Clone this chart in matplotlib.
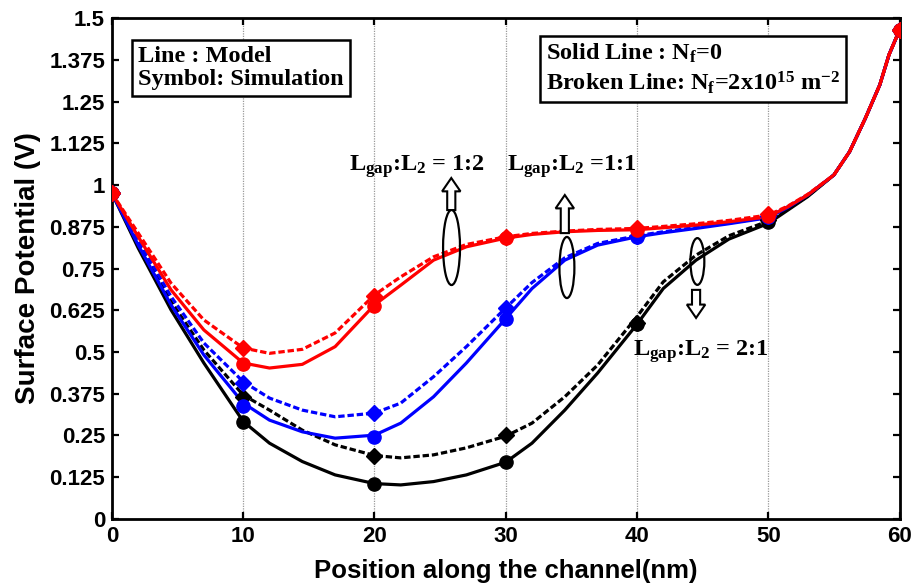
import matplotlib
matplotlib.use("Agg")
import matplotlib.pyplot as plt
from matplotlib.patches import Ellipse, FancyArrow

plt.rcParams['font.family'] = ['Liberation Sans', 'DejaVu Sans']
plt.rcParams['mathtext.fontset'] = 'custom'
plt.rcParams['mathtext.rm'] = 'Liberation Serif:bold'
plt.rcParams['mathtext.it'] = 'Liberation Serif:bold'
plt.rcParams['mathtext.bf'] = 'Liberation Serif:bold'

# ---- model curves (lines) ----
xm = [0, 2, 4.5, 7, 10, 12, 14.5, 17, 20, 22, 24.5, 27, 30, 32, 34.5, 37, 40,
      42, 44.5, 47, 50, 51.5, 53, 55, 56.2, 57.4, 58.5, 59.2, 60]
tail = [1.03, 1.10, 1.20, 1.30, 1.39, 1.464]
red_model_nf0 = [0.975, 0.845, 0.686, 0.566, 0.467, 0.452, 0.463, 0.516, 0.641, 0.700, 0.775, 0.815,
                 0.841, 0.852, 0.860, 0.864, 0.866, 0.872, 0.880, 0.890, 0.905, 0.935, 0.970] + tail
red_model_nf = [0.975, 0.856, 0.706, 0.596, 0.512, 0.496, 0.508, 0.557, 0.671, 0.725, 0.785, 0.822,
                0.845, 0.855, 0.862, 0.867, 0.870, 0.876, 0.884, 0.894, 0.910, 0.937, 0.972] + tail
blue_model_nf0 = [0.975, 0.820, 0.641, 0.491, 0.347, 0.296, 0.261, 0.242, 0.251, 0.287, 0.366, 0.467,
                  0.600, 0.690, 0.775, 0.820, 0.845, 0.857, 0.870, 0.884, 0.902, 0.933, 0.970] + tail
blue_model_nf = [0.975, 0.835, 0.666, 0.527, 0.411, 0.362, 0.326, 0.306, 0.317, 0.347, 0.426, 0.516,
                 0.632, 0.708, 0.782, 0.825, 0.848, 0.860, 0.873, 0.886, 0.904, 0.935, 0.970] + tail
black_model_nf0 = [0.975, 0.811, 0.626, 0.467, 0.292, 0.227, 0.172, 0.132, 0.106, 0.102, 0.112, 0.132,
                   0.170, 0.227, 0.326, 0.437, 0.583, 0.690, 0.775, 0.838, 0.885, 0.925, 0.965] + tail
black_model_nf = [0.975, 0.826, 0.651, 0.506, 0.371, 0.326, 0.266, 0.222, 0.190, 0.183, 0.192, 0.213,
                  0.248, 0.287, 0.366, 0.461, 0.606, 0.710, 0.790, 0.848, 0.892, 0.928, 0.967] + tail

# ---- simulation points (symbols) ----
xs = [0, 10, 20, 30, 40, 50, 60]
red_sim_nf0 = [0.975, 0.464, 0.638, 0.841, 0.865, 0.907, 1.464]
red_sim_nf = [0.975, 0.512, 0.668, 0.844, 0.871, 0.913, 1.464]
blue_sim_nf0 = [0.975, 0.338, 0.245, 0.600, 0.844, 0.904, 1.464]
blue_sim_nf = [0.975, 0.407, 0.317, 0.632, 0.847, 0.907, 1.464]
black_sim_nf0 = [0.975, 0.290, 0.105, 0.171, 0.584, 0.889, 1.464]
black_sim_nf = [0.975, 0.365, 0.189, 0.251, 0.588, 0.895, 1.464]

xticks = [0, 10, 20, 30, 40, 50, 60]
yticks = [0, 0.125, 0.25, 0.375, 0.5, 0.625, 0.75, 0.875, 1, 1.125, 1.25, 1.375, 1.5]
ytick_labels = ['0', '0.125', '0.25', '0.375', '0.5', '0.625', '0.75', '0.875', '1',
                '1.125', '1.25', '1.375', '1.5']

fig = plt.figure(figsize=(9.12, 5.83), dpi=100)
ax = fig.add_axes([0.1228, 0.1098, 0.8635, 0.8593])

for xg in [10, 20, 30, 40, 50]:
    ax.axvline(xg, color='#999999', lw=0.9, ls=(0, (1, 1)), zorder=0)

lw = 2.3
dash = (0, (2.0, 0.9))
groups = [
    ('#000000', black_model_nf0, black_model_nf, black_sim_nf0, black_sim_nf, True),
    ('#0000ff', blue_model_nf0, blue_model_nf, blue_sim_nf0, blue_sim_nf, False),
    ('#ff0000', red_model_nf0, red_model_nf, red_sim_nf0, red_sim_nf, False),
]
for c, m0, m1, s0, s1, circles_top in groups:
    ax.plot(xm, m0, color=c, lw=lw, zorder=3)
    ax.plot(xm, m1, color=c, lw=lw, ls=dash, zorder=3)
    if circles_top:
        ax.plot(xs, s1, 'D', color=c, ms=8, zorder=4)
        ax.plot(xs, s0, 'o', color=c, ms=9.5, zorder=4)
    else:
        ax.plot(xs, s0, 'o', color=c, ms=9.5, zorder=4)
        ax.plot(xs, s1, 'D', color=c, ms=8, zorder=4)

ax.set_xlim(0, 60)
ax.set_ylim(0, 1.5)
ax.set_xticks(xticks)
ax.set_yticks(yticks)
ax.set_yticklabels(ytick_labels)
ax.tick_params(direction='in', length=5, width=1.6, top=True, right=True,
               labelsize=16, pad=5)
for lab in ax.get_xticklabels() + ax.get_yticklabels():
    lab.set_fontweight('bold')
for sp in ax.spines.values():
    sp.set_linewidth(2)

ax.set_xlabel('Position along the channel(nm)', fontsize=18.5, fontweight='bold', labelpad=9)
ax.set_ylabel('Surface Potential (V)', fontsize=20, fontweight='bold', labelpad=6)

serif = ['Liberation Serif', 'DejaVu Serif']
ax.text(2.0, 1.415, 'Line : Model\nSymbol: Simulation', family=serif, fontweight='bold',
        fontsize=17.5, va='top', ha='left', linespacing=1.1,
        bbox=dict(boxstyle='square,pad=0.25', fc='white', ec='black', lw=1.8), zorder=6)
ax.text(33.1, 1.43, 'Solid Line : N$_{f}$=0\nBroken Line: N$_{f}$=2x10$^{15}$ m$^{-2}$',
        family=serif, fontweight='bold', fontsize=17.5, va='top', ha='left', linespacing=1.25,
        bbox=dict(boxstyle='square,pad=0.25', fc='white', ec='black', lw=1.8), zorder=6)

ann_kw = dict(family=serif, fontweight='bold', fontsize=17.5, ha='center', va='center', zorder=6)
ax.text(23.2, 1.054, r'L$_{gap}$:L$_{2}$ = 1:2', **ann_kw)
ax.text(35.0, 1.054, r'L$_{gap}$:L$_{2}$ =1:1', **ann_kw)
ax.text(44.85, 0.50, r'L$_{gap}$:L$_{2}$ = 2:1', **ann_kw)

for cx, cy, w, h in [(25.87, 0.813, 1.29, 0.225), (34.66, 0.753, 1.14, 0.183), (44.6, 0.771, 1.06, 0.14)]:
    ax.add_patch(Ellipse((cx, cy), w, h, fc='none', ec='black', lw=1.6, zorder=6))

arrow_kw = dict(width=0.62, head_width=1.4, length_includes_head=True, fc='white', ec='black',
                lw=1.5, zorder=6)
ax.add_patch(FancyArrow(25.85, 0.925, 0, 0.096, head_length=0.04, **arrow_kw))
ax.add_patch(FancyArrow(34.5, 0.856, 0, 0.114, head_length=0.04, **arrow_kw))
ax.add_patch(FancyArrow(44.5, 0.686, 0, -0.084, head_length=0.04, **arrow_kw))

fig.savefig('out.png', dpi=100)
